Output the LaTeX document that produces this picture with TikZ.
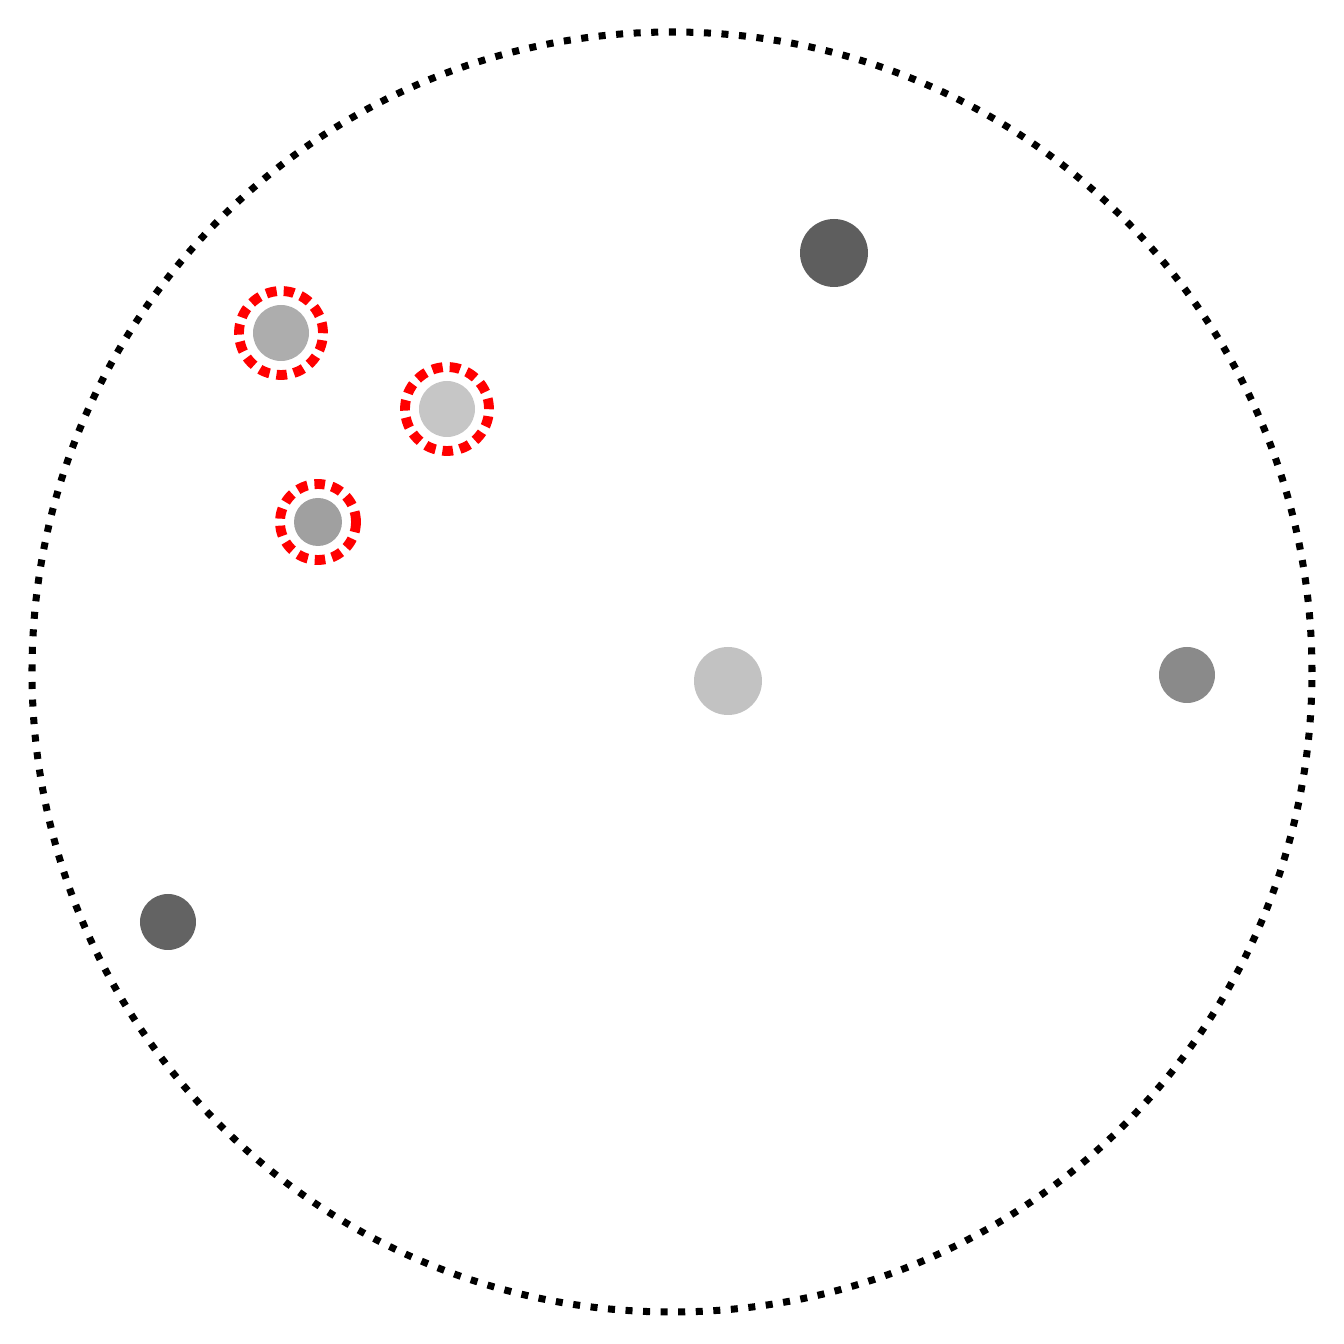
\documentclass[tikz,border=0pt]{standalone}
\usepackage{tikz}
\definecolor{dotA}{HTML}{5E5E5E}
\definecolor{dotB}{HTML}{ADADAD}
\definecolor{dotC}{HTML}{C6C6C6}
\definecolor{dotD}{HTML}{A0A0A0}
\definecolor{dotE}{HTML}{C2C2C2}
\definecolor{dotF}{HTML}{8A8A8A}
\definecolor{dotG}{HTML}{636363}
\tikzset{
    pt/.style={circle,inner sep=0pt,draw=none},
    ring/.style={circle,inner sep=0pt,draw=red,line width=2.8pt,dash pattern=on 3pt off 2pt},
}

\begin{document}
\begin{tikzpicture}
        \useasboundingbox (0,0) rectangle (13.44,13.44);
        \node[circle,draw,line width=2pt,dash pattern=on 2pt off 3pt,minimum size=12.8cm] (area) at (6.72,6.72) {};

        \begin{scope}[every node/.style={pt}]
            \node[fill=dotA,minimum size=0.68cm] (p1) at (8.34,10.91) {};
            \node[fill=dotB,minimum size=0.56cm] (p2) at (2.81,10.11) {};
            \node[fill=dotC,minimum size=0.56cm] (p3) at (4.47,9.35) {};
            \node[fill=dotD,minimum size=0.48cm] (p4) at (3.18,8.22) {};
            \node[fill=dotE,minimum size=0.68cm] (p5) at (7.28,6.63) {};
            \node[fill=dotF,minimum size=0.56cm] (p6) at (11.87,6.69) {};
            \node[fill=dotG,minimum size=0.56cm] (p7) at (1.68,4.22) {};
        \end{scope}

        \node[ring,minimum size=0.84cm] (r2) at (p2) {};
        \node[ring,minimum size=0.84cm] (r3) at (p3) {};
        \node[ring,minimum size=0.76cm] (r4) at (p4) {};
    \end{tikzpicture}
\end{document}
